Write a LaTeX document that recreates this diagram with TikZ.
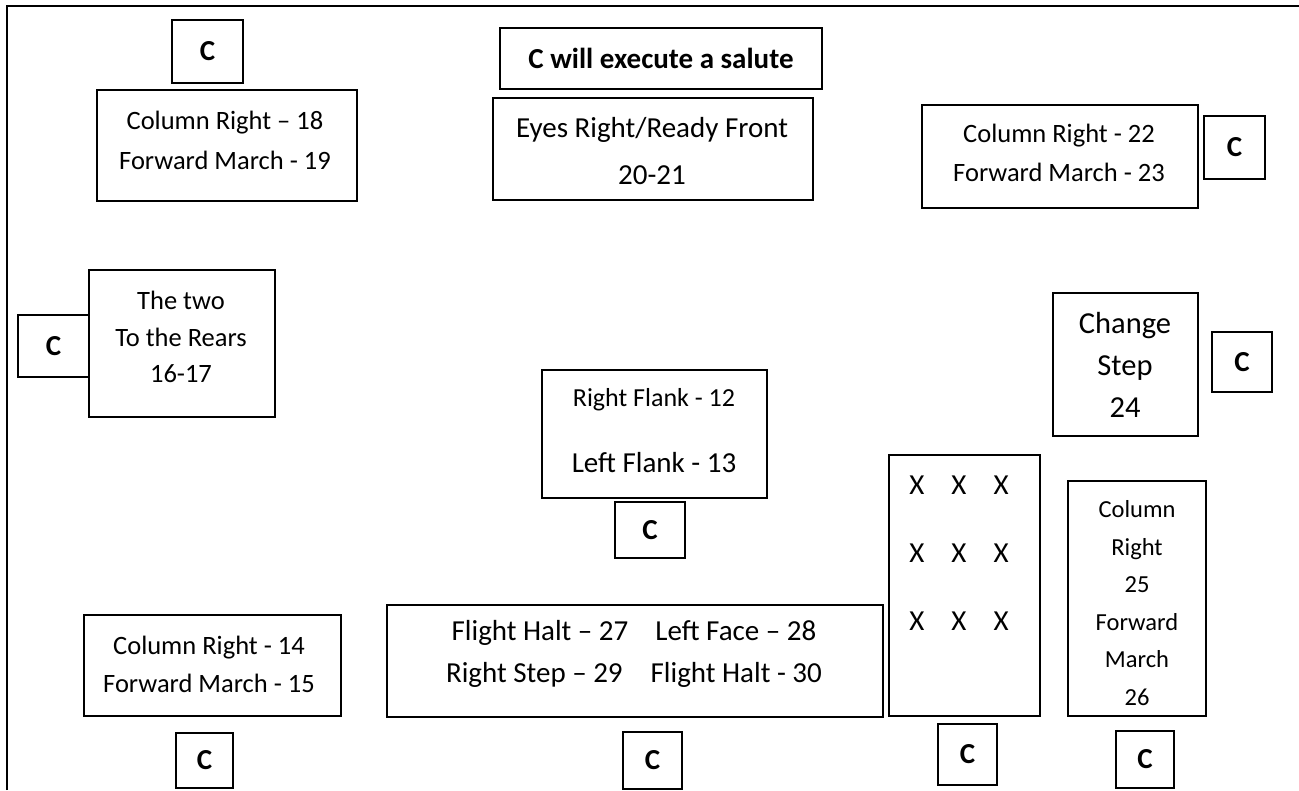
\documentclass[tikz,border=0pt]{standalone}
\usepackage{fontspec}
\setmainfont{Carlito}
\begin{document}
\begin{tikzpicture}[x=1bp,y=-1bp,
  bx/.style={draw=black, line width=1.6bp, inner sep=0pt},
  cb/.style={bx, font=\fontsize{29bp}{35bp}\selectfont\bfseries},
  tx/.style={inner sep=0pt, align=center},
  fA/.style={font=\fontsize{26.5bp}{40bp}\selectfont},
]
\useasboundingbox (0,0) rectangle (1299,790);
% frame
\coordinate (fa) at (7,790);
\coordinate (fb) at (7,6);
\coordinate (fc) at (1299,6);
\draw[line width=1.6bp] (fa) -- (fb) -- (fc);

% top row
\node[cb, minimum width=71bp, minimum height=63bp] (c1) at (207.5,51.5) {C};
\node[bx, minimum width=260bp, minimum height=111bp] (cr18) at (227,145.5) {};
\node[tx, fA] (cr18t) at (225,140) {Column Right – 18\\Forward March - 19};

\node[cb, minimum width=322bp, minimum height=61bp] (sal) at (661,58.5) {C will execute a salute};
\node[bx, minimum width=320bp, minimum height=102bp] (eyes) at (653,149) {};
\node[tx, font=\fontsize{29bp}{47bp}\selectfont] (eyest) at (652,151.5) {Eyes Right/Ready Front\\20-21};

\node[bx, minimum width=276bp, minimum height=103bp] (cr22) at (1060,156.5) {};
\node[tx, font=\fontsize{26.5bp}{39bp}\selectfont] (cr22t) at (1059,152.5) {Column Right - 22\\Forward March - 23};
\node[cb, minimum width=61bp, minimum height=63bp] (c2) at (1234.5,147.5) {C};

% middle row
\node[bx, minimum width=186bp, minimum height=147bp] (rears) at (182,343.5) {};
\node[tx, font=\fontsize{26.5bp}{36.5bp}\selectfont] (rearst) at (181,337) {The two\\To the Rears\\16-17};
\node[cb, minimum width=71bp, minimum height=62bp] (c3) at (53.5,346) {C};

\node[bx, minimum width=225bp, minimum height=128bp] (flank) at (654.5,434) {};
\node[tx, font=\fontsize{26bp}{32bp}\selectfont] (flank1) at (654,400) {Right Flank - 12};
\node[tx, font=\fontsize{29bp}{35bp}\selectfont] (flank2) at (654,463) {Left Flank - 13};
\node[cb, minimum width=70bp, minimum height=56bp] (c4) at (650,530) {C};

\node[bx, minimum width=145bp, minimum height=143bp] (chg) at (1125.5,364.5) {};
\node[tx, font=\fontsize{30.5bp}{42bp}\selectfont] (chgt) at (1125,365) {Change\\Step\\24};
\node[cb, minimum width=60bp, minimum height=60bp] (c5) at (1242,362) {C};

% lower right
\node[bx, minimum width=151bp, minimum height=261bp] (xbox) at (964.5,585.5) {};
\node[tx, font=\fontsize{29bp}{68bp}\selectfont] (xt) at (959,553) {X\hspace{27bp}X\hspace{27bp}X\\X\hspace{27bp}X\hspace{27bp}X\\X\hspace{27bp}X\hspace{27bp}X};
\node[bx, minimum width=138bp, minimum height=235bp] (col25) at (1137,598.5) {};
\node[tx, font=\fontsize{24.5bp}{37.6bp}\selectfont] (col25t) at (1137,603) {Column\\Right\\25\\Forward\\March\\26};

% bottom row
\node[bx, minimum width=257bp, minimum height=101bp] (cr14) at (212.5,665.5) {};
\node[tx, font=\fontsize{26.5bp}{38bp}\selectfont] (cr14t) at (209,664) {Column Right - 14\\Forward March - 15};

\node[bx, minimum width=496bp, minimum height=112bp] (flight) at (635,661) {};
\node[tx, font=\fontsize{29bp}{42bp}\selectfont] (flightt) at (634,654) {Flight Halt – 27\hspace{27bp}Left Face – 28\\Right Step – 29\hspace{28bp}Flight Halt - 30};

\node[cb, minimum width=57bp, minimum height=55bp] (c6) at (204.5,760.5) {C};
\node[cb, minimum width=59bp, minimum height=57bp] (c7) at (652.5,760.5) {C};
\node[cb, minimum width=59bp, minimum height=61bp] (c8) at (967.5,754.5) {C};
\node[cb, minimum width=58bp, minimum height=57bp] (c9) at (1145,759.5) {C};
\end{tikzpicture}
\end{document}
